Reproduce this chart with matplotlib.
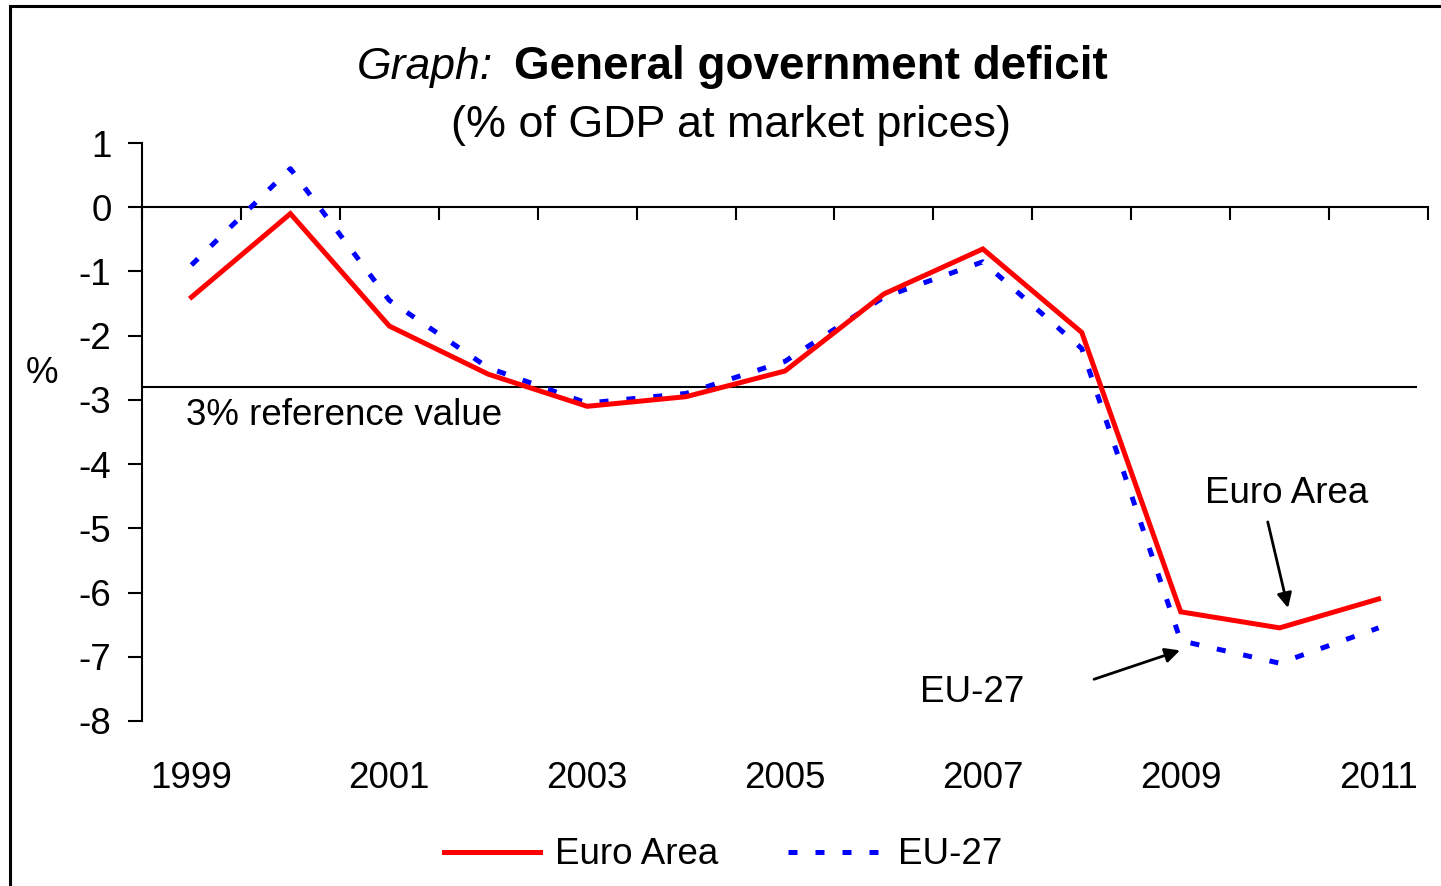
import numpy as np
import matplotlib
matplotlib.use("Agg")
import matplotlib.pyplot as plt
from matplotlib.patches import Rectangle

plt.rcParams['font.family'] = ['Liberation Sans', 'DejaVu Sans']
plt.rcParams['axes.unicode_minus'] = False

# data (% of GDP)
years = [1999, 2000, 2001, 2002, 2003, 2004, 2005, 2006, 2007, 2008, 2009, 2010, 2011]
euro_area = [-1.4, -0.1, -1.85, -2.6, -3.1, -2.95, -2.55, -1.35, -0.65, -1.95, -6.3, -6.55, -6.1]
eu27 = [-0.9, 0.6, -1.45, -2.5, -3.05, -2.9, -2.4, -1.4, -0.85, -2.2, -6.75, -7.1, -6.55]
ref_value = -2.8
yticks = list(range(-8, 2))

RED = '#ff0000'
BLUE = '#0000ff'
FS = 26.5

fig = plt.figure(figsize=(14.41, 8.86), dpi=100)
ax = fig.add_axes([142 / 1441, 1 - 721 / 886, (1428 - 142) / 1441, (721 - 143) / 886])

x = np.arange(len(years))
ax.plot(x, euro_area, color=RED, lw=3.6, solid_joinstyle='miter', label='Euro Area', zorder=4)
ax.plot(x, eu27, color=BLUE, lw=3.6, dashes=(1.8, 3.6), dash_capstyle='butt',
        label='EU-27', zorder=3)

ax.axhline(ref_value, xmin=0, xmax=0.991, color='black', lw=1.5, zorder=2)

ax.set_xlim(-0.5, len(years) - 0.5)
ax.set_ylim(-8, 1)

# axis line through zero with ticks between categories
for s in ['top', 'right']:
    ax.spines[s].set_visible(False)
ax.spines['bottom'].set_position(('data', 0))
ax.spines['bottom'].set_linewidth(1.5)
ax.spines['left'].set_linewidth(1.5)
ax.set_xticks(np.arange(len(years) + 1) - 0.5)
ax.tick_params(axis='x', direction='out', length=9, width=1.5, labelbottom=False)
ax.set_yticks(yticks)
ax.tick_params(axis='y', direction='out', length=10, width=1.5, labelsize=FS, pad=12)

# year labels at the bottom
sec = ax.secondary_xaxis('bottom')
sec.set_xticks(x[::2], labels=[str(y) for y in years[::2]])
sec.tick_params(length=0, pad=29, labelsize=FS)
sec.spines['bottom'].set_visible(False)

ax.text(-0.055, ref_value - 0.45, '3% reference value', fontsize=FS, ha='left', va='center')

arrow = dict(arrowstyle='-|>', color='black', lw=2, mutation_scale=22, shrinkA=0, shrinkB=0)
ax.text(11.07, -4.45, 'Euro Area', fontsize=FS, ha='center', va='center')
ax.annotate('', xy=(11.085, -6.24), xytext=(10.88, -4.9), arrowprops=arrow)
ax.annotate('', xy=(9.993, -6.9), xytext=(9.124, -7.35), arrowprops=arrow)
ax.text(7.89, -7.55, 'EU-27', fontsize=FS, ha='center', va='center')

fig.text(42 / 1441, 1 - 373 / 886, '%', fontsize=FS, ha='center', va='center')

# title: italic prefix, bold main part
ty = 1 - 67 / 886
fig.text(493 / 1441, ty, 'Graph:', fontsize=32, style='italic', ha='right', va='center')
fig.text(514 / 1441, ty, 'General government deficit', fontsize=33, weight='bold',
         ha='left', va='center')
fig.text(731 / 1441, 1 - 125 / 886, '(% of GDP at market prices)', fontsize=32.3,
         ha='center', va='center')

fig.legend(loc='center', bbox_to_anchor=(723.5 / 1441, 1 - 855 / 886), ncol=2,
           frameon=False, fontsize=FS, handlelength=2.6, handletextpad=0.4,
           columnspacing=1.9)

# outer frame (only left and top edges fall inside the image)
fig.patches.append(Rectangle((10 / 1441, -0.5), 2, 0.5 + (1 - 6 / 886), fill=False,
                             lw=2.2, edgecolor='black', transform=fig.transFigure))

fig.savefig('out.png', dpi=100)
